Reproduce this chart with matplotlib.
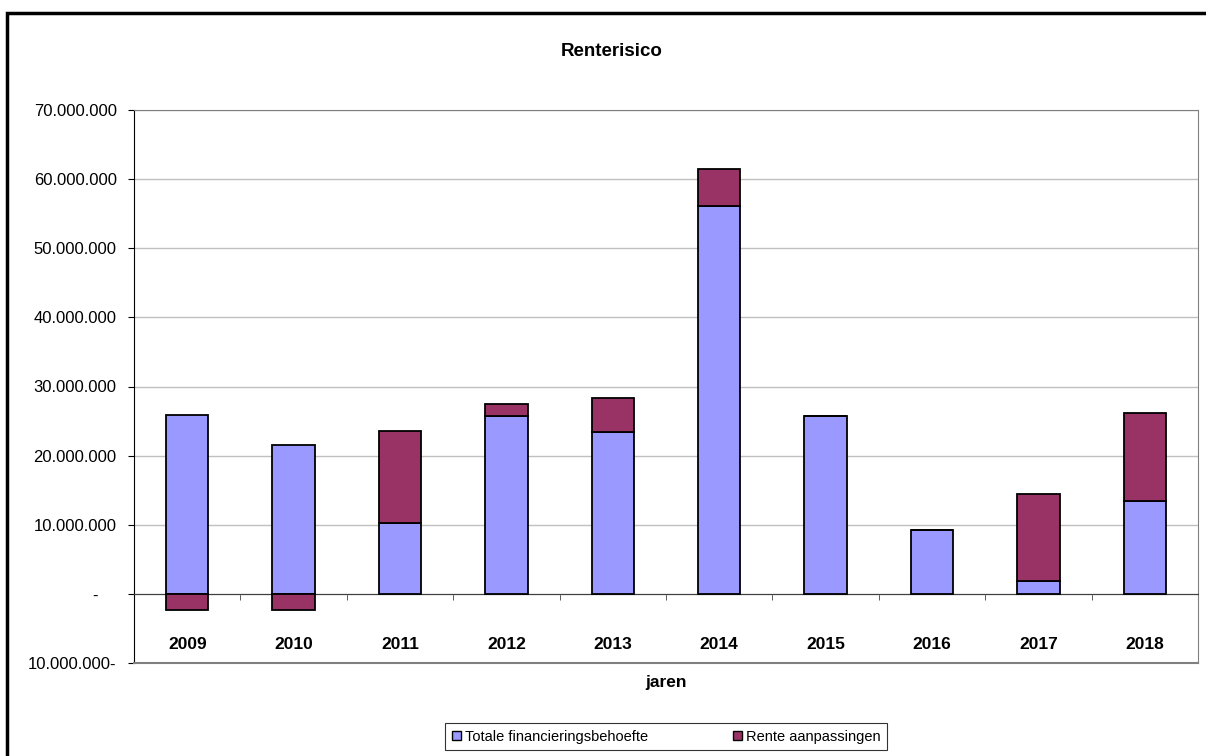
import matplotlib.pyplot as plt
import matplotlib.patches as mpatches
from matplotlib.ticker import FuncFormatter, MultipleLocator
import numpy as np

plt.rcParams["font.family"] = ["Liberation Sans", "DejaVu Sans"]

jaren = ["2009", "2010", "2011", "2012", "2013", "2014", "2015", "2016", "2017", "2018"]
financiering = [25.9e6, 21.5e6, 10.2e6, 25.8e6, 23.4e6, 56.1e6, 25.7e6, 9.3e6, 1.9e6, 13.5e6]
rente = [-2.3e6, -2.3e6, 13.4e6, 1.7e6, 5.0e6, 5.4e6, 0, 0, 12.5e6, 12.6e6]

blauw = "#9999FF"
paars = "#993366"

def fmt(v, pos):
    if abs(v) < 1:
        return "-    "
    s = "{:,.0f}".format(abs(v)).replace(",", ".")
    return s + "-" if v < 0 else s

fig = plt.figure(figsize=(12.06, 7.56), dpi=100)
ax = fig.add_axes([134/1206, 1-663/756, (1198-134)/1206, (663-110)/756])

x = np.arange(len(jaren))
fin = np.array(financiering)
ren = np.array(rente)
onder = np.where(ren >= 0, fin, 0)

ax.bar(x, fin, width=0.4, color=blauw, edgecolor="black", linewidth=1.3,
       label="Totale financieringsbehoefte", zorder=3)
ax.bar(x, ren, width=0.4, bottom=onder, color=paars, edgecolor="black",
       linewidth=1.3, label="Rente aanpassingen", zorder=3)

ax.set_xlim(-0.5, len(jaren) - 0.5)
ax.set_ylim(-10e6, 70e6)
ax.yaxis.set_major_locator(MultipleLocator(10e6))
ax.yaxis.set_major_formatter(FuncFormatter(fmt))
ax.yaxis.grid(True, color="#c0c0c0", linewidth=1, zorder=0)

ax.spines["bottom"].set_position(("data", 0))
ax.spines["bottom"].set_color("#404040")
ax.spines["left"].set_color("black")
ax.spines["top"].set_color("#808080")
ax.spines["right"].set_color("#808080")
ax.axhline(-10e6, color="#808080", linewidth=1.5, clip_on=False, zorder=4)

ax.set_xticks(x)
ax.set_xticklabels(jaren, fontsize=12.5, fontweight="bold")
ax.set_xticks(np.arange(-0.5, len(jaren)), minor=True)
ax.tick_params(axis="x", which="major", length=0, pad=31)
ax.tick_params(axis="x", which="minor", length=4, direction="out", color="#404040")
ax.tick_params(axis="y", length=4.5, direction="out", labelsize=12, pad=8)

fig.text(612/1206, 1-52/756, "Renterisico", ha="center", va="center",
         fontsize=13.5, fontweight="bold")
fig.text(666/1206, 1-683/756, "jaren", ha="center", va="center",
         fontsize=12.5, fontweight="bold")

h1 = mpatches.Patch(facecolor=blauw, edgecolor="black", linewidth=1)
h2 = mpatches.Patch(facecolor=paars, edgecolor="black", linewidth=1)
leg = fig.legend([h1, h2], ["Totale financieringsbehoefte", "Rente aanpassingen"],
                 loc="center", bbox_to_anchor=(666/1206, 1-736.5/756), ncol=2,
                 fontsize=10.5, frameon=True, fancybox=False, handlelength=0.65,
                 handleheight=0.65, handletextpad=0.25, columnspacing=5.8,
                 borderpad=0.45, borderaxespad=0)
leg.get_frame().set_edgecolor("black")
leg.get_frame().set_linewidth(0.8)

# buitenrand van de grafiek
rand = mpatches.Rectangle((7/1206, -0.1), 2, 1 - 13/756 + 0.1, transform=fig.transFigure,
                          fill=False, edgecolor="black", linewidth=2.5, clip_on=False)
fig.patches.append(rand)

plt.savefig("out.png", dpi=100)
